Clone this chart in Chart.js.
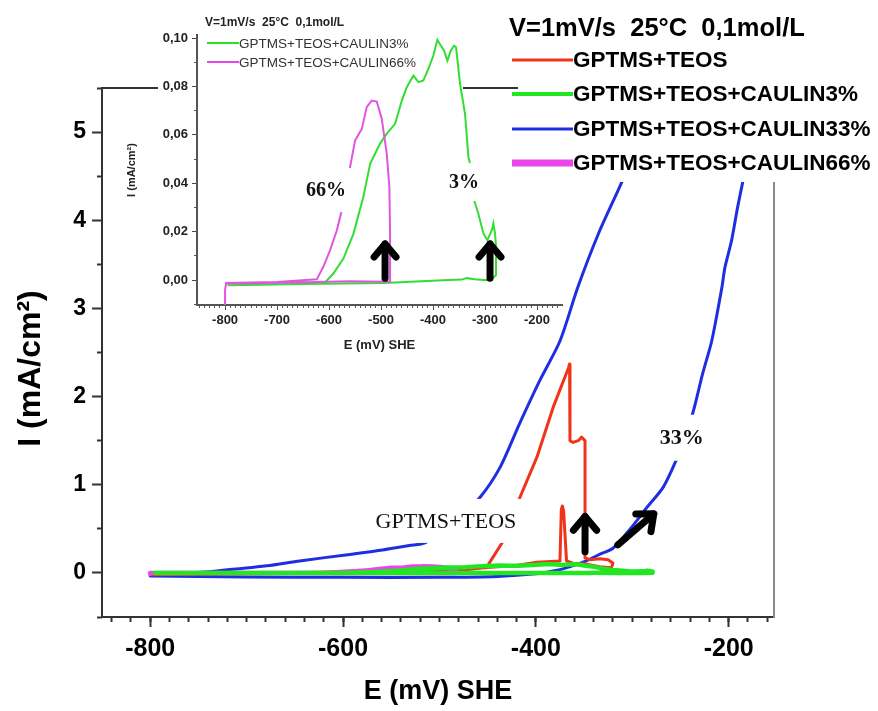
<!DOCTYPE html>
<html><head><meta charset="utf-8">
<script src="https://cdn.jsdelivr.net/npm/chart.js@4.4.1/dist/chart.umd.min.js"></script>
<style>
html,body{margin:0;padding:0;background:#fff;width:878px;height:711px;overflow:hidden}
#wrap{position:relative;width:878px;height:711px}
#main{position:absolute;left:0;top:0}
#inset{position:absolute;left:120px;top:0}
</style></head><body>
<div id="wrap">
<canvas id="main" width="878" height="711"></canvas>
<canvas id="inset" width="450" height="365"></canvas>
</div>
<script>
// ---------------- data ----------------
const seriesNames = ['GPTMS+TEOS','GPTMS+TEOS+CAULIN3%','GPTMS+TEOS+CAULIN33%','GPTMS+TEOS+CAULIN66%'];
const legendTitle = 'V=1mV/s  25°C  0,1mol/L';
const insetTitle = 'V=1mV/s  25°C  0,1mol/L';
const xTickLabels = [-800, -600, -400, -200];
const yTickLabels = [0, 1, 2, 3, 4, 5];
const yMinorTicks = [-0.5, 0.5, 1.5, 2.5, 3.5, 4.5, 5.5];
const insetXTickLabels = [-800, -700, -600, -500, -400, -300, -200];
const insetYTickLabels = [0, 0.02, 0.04, 0.06, 0.08, 0.10];
const insetYMinorTicks = [-0.01, 0.01, 0.03, 0.05, 0.07, 0.09];

// GPTMS+TEOS (red)
const teosE = [-800,-700,-600,-520,-470,-452,-449,-434,-416.6,-399,-382,-366,-365,-364.6,-361.4,-356,-352.7,-349,-349,-344,-333.7,-325,-320,-321.6,-333.7,-347.5,-361.6,-368.2,-371.2,-372.5,-373.6,-375,-399,-423.7,-451,-520,-600,-700,-800];
const teosI = [-0.02,-0.01,0.0,0.02,0.04,0.06,0.10,0.36,0.855,1.31,1.88,2.33,2.37,1.50,1.48,1.50,1.54,1.50,0.17,0.15,0.16,0.15,0.11,0.06,0.07,0.10,0.11,0.136,0.70,0.76,0.72,0.136,0.12,0.08,0.06,0.03,0.01,0.0,-0.01];

// GPTMS+TEOS+CAULIN3% (green)
const c3E = [-795,-700,-608.7,-591.7,-572.4,-553,-534,-521,-502,-489,-473,-460,-450.6,-437.8,-428,-418.6,-409,-399.4,-391.7,-385,-378.8,-372.4,-365.9,-359.6,-355.8,-348,-338.5,-332,-329,-321,-313,-303,-295.6,-287,-284,-280.8,-278.8,-279,-290,-303,-320,-335,-345,-370,-495,-650,-795];
const c3I = [-0.0021,-0.0018,-0.0012,0.0027,0.0089,0.0192,0.0344,0.0481,0.0564,0.0605,0.0646,0.0742,0.0797,0.0845,0.0818,0.0825,0.0873,0.0928,0.0993,0.0969,0.0948,0.0907,0.0948,0.0969,0.0962,0.0811,0.0687,0.0509,0.0481,0.033,0.0275,0.0192,0.0165,0.0206,0.0234,0.0192,0.0137,0.002,0.0,0.0,0.0003,0.0008,0.0002,0.0,-0.0012,-0.0016,-0.0021];

// GPTMS+TEOS+CAULIN33% (blue)
const c33E = [-800,-770,-731,-679,-645,-593,-559,-531,-515,-495,-477,-458,-437,-417,-396,-375,-356.5,-335,-311,-290,-270,-255,-250,-160,-168,-175,-180,-185.5,-190.7,-197,-204,-207,-217.6,-227,-237,-245,-254,-268,-285,-302,-320,-334,-347,-362,-378,-400,-440,-500,-600,-700,-800];
const c33I = [-0.03,-0.01,0.023,0.08,0.136,0.21,0.26,0.31,0.34,0.50,0.66,0.855,1.20,1.69,2.18,2.63,3.24,3.85,4.43,4.98,5.5,5.9,6.2,6.2,5.4,5.0,4.73,4.43,4.15,3.77,3.46,3.24,2.63,2.26,1.82,1.55,1.29,0.97,0.74,0.50,0.28,0.21,0.14,0.08,0.03,-0.01,-0.04,-0.05,-0.05,-0.045,-0.035];

// GPTMS+TEOS+CAULIN66% (magenta)
const c66E = [-800,-800,-798,-700,-623.7,-611,-598,-585,-575.6,-567,-559.6,-550,-537,-527.6,-518,-508.3,-498.7,-489,-484,-482.7,-482.7,-560,-688,-790,-800];
const c66I = [-0.0103,-0.004,-0.0012,-0.0008,0.0003,0.0055,0.0124,0.0206,0.0289,0.038,0.0467,0.0577,0.0625,0.0715,0.0742,0.0738,0.0667,0.0522,0.0385,0.0192,-0.0007,-0.0005,-0.0011,-0.0014,-0.0014];

// annotations (data coordinates)
const mainLabels = [
  {text:'GPTMS+TEOS', E:-493.3, I:0.59, w:152, h:44, bold:false},
  {text:'33%', E:-248.7, I:1.533, w:52, h:46, bold:true}
];
const mainArrows = [
  {E0:-349, I0:0.24, E1:-349, I1:0.64},
  {E0:-315, I0:0.318, E1:-277.7, I1:0.67}
];
const insetLabels = [
  {text:'66%', E:-605.8, I:0.0372, w:50, h:44, bold:true},
  {text:'3%', E:-340.4, I:0.0405, w:34, h:38, bold:true}
];
const insetArrows = [
  {E0:-492.3, I0:0.0008, E1:-492.3, I1:0.0149},
  {E0:-290.4, I0:0.0008, E1:-290.4, I1:0.0149}
];

// ---------------- helpers ----------------
const FONT = '"Liberation Sans", Arial, Helvetica, sans-serif';
const SERIF = '"Liberation Serif", "Times New Roman", serif';
const COLORS = ['#f0341a', '#22e622', '#1f2fe0', '#ea46ea'];
const toXY = (E, I) => E.map((e, i) => ({x: e, y: I[i]}));
const range = (a, b, s) => { const r = []; for (let v = a; v <= b + 1e-9; v += s) r.push(Math.round(v * 1000) / 1000); return r; };
const xMinorTicks = range(-840, -160, 20);
const insetXMinorTicks = range(-850, -160, 10);

function drawArrow(ctx, x0, y0, x1, y1, w, head) {
  ctx.save();
  ctx.strokeStyle = '#000'; ctx.lineWidth = w; ctx.lineCap = 'round'; ctx.lineJoin = 'round';
  ctx.beginPath(); ctx.moveTo(x0, y0); ctx.lineTo(x1, y1); ctx.stroke();
  const a = Math.atan2(y1 - y0, x1 - x0), sp = 0.7;
  ctx.beginPath();
  ctx.moveTo(x1 - head * Math.cos(a - sp), y1 - head * Math.sin(a - sp));
  ctx.lineTo(x1, y1);
  ctx.lineTo(x1 - head * Math.cos(a + sp), y1 - head * Math.sin(a + sp));
  ctx.stroke();
  ctx.restore();
}
function makeAnnot(labels, arrows, fontSize, aw, ah) {
  return {
    id: 'annot',
    afterDatasetsDraw(chart) {
      const ctx = chart.ctx, xs = chart.scales.x, ys = chart.scales.y;
      labels.forEach(l => {
        const px = xs.getPixelForValue(l.E), py = ys.getPixelForValue(l.I);
        ctx.save();
        ctx.fillStyle = '#fff';
        ctx.fillRect(px - l.w / 2, py - l.h / 2, l.w, l.h);
        ctx.font = (l.bold ? 'bold ' : '') + fontSize + 'px ' + SERIF;
        ctx.fillStyle = '#111'; ctx.textAlign = 'center'; ctx.textBaseline = 'middle';
        ctx.fillText(l.text, px, py + 1);
        ctx.restore();
      });
      arrows.forEach(a => drawArrow(ctx, xs.getPixelForValue(a.E0), ys.getPixelForValue(a.I0),
        xs.getPixelForValue(a.E1), ys.getPixelForValue(a.I1), aw, ah));
    }
  };
}
function tickAxis(pos, min, max, ticksArr, len, width, color, weight, fitSize, labelOpts, titleOpts, border) {
  const horiz = pos === 'bottom' || pos === 'top';
  return {
    type: 'linear', position: pos, min: min, max: max, weight: weight,
    afterBuildTicks: s => { s.ticks = ticksArr.map(v => ({value: v})); },
    afterFit: s => { if (horiz) s.height = fitSize; else s.width = fitSize; },
    grid: {display: true, drawOnChartArea: false, drawTicks: true, tickLength: len, tickWidth: width, tickColor: color},
    border: border || {display: false},
    ticks: labelOpts || {display: false},
    title: titleOpts || {display: false}
  };
}

// ---------------- main chart ----------------
const mainLegend = {
  id: 'mainLegend',
  afterDraw(chart) {
    const ctx = chart.ctx;
    ctx.save();
    ctx.fillStyle = '#fff';
    ctx.fillRect(518, 0, 360, 182);
    ctx.fillStyle = '#000';
    ctx.textBaseline = 'middle'; ctx.textAlign = 'left';
    ctx.font = 'bold 25.5px ' + FONT;
    ctx.fillText(legendTitle, 509, 29);
    const ys = [60, 94, 129, 163], lw = [3, 4, 3, 7];
    ctx.font = 'bold 22.5px ' + FONT;
    seriesNames.forEach((n, i) => {
      ctx.strokeStyle = COLORS[i]; ctx.lineWidth = lw[i]; ctx.lineCap = 'butt';
      ctx.beginPath(); ctx.moveTo(512, ys[i]); ctx.lineTo(573, ys[i]); ctx.stroke();
      ctx.fillStyle = '#000';
      ctx.fillText(n, 573, ys[i] + 1);
    });
    ctx.restore();
  }
};

new Chart(document.getElementById('main'), {
  type: 'scatter',
  data: {
    datasets: [
      {label: seriesNames[1], data: toXY(c3E, c3I), borderColor: COLORS[1], borderWidth: 4.5, order: 0},
      {label: seriesNames[3], data: toXY(c66E, c66I), borderColor: COLORS[3], borderWidth: 4.5, order: 1},
      {label: seriesNames[0], data: toXY(teosE, teosI), borderColor: COLORS[0], borderWidth: 3, order: 2},
      {label: seriesNames[2], data: toXY(c33E, c33I), borderColor: COLORS[2], borderWidth: 3, order: 3, tension: 0.25}
    ].map(d => Object.assign({showLine: true, pointRadius: 0, pointHoverRadius: 0, fill: false, borderJoinStyle: 'round', borderCapStyle: 'round'}, d))
  },
  options: {
    responsive: false, animation: false, devicePixelRatio: 1,
    layout: {padding: {left: 0, top: 88, right: 104, bottom: 0}},
    plugins: {legend: {display: false}, tooltip: {enabled: false}},
    scales: {
      x: tickAxis('bottom', -850, -153, xTickLabels, 10, 2, '#333', 2, 94,
        {color: '#000', font: {family: FONT, size: 25, weight: 'bold'}, padding: 7, maxRotation: 0, autoSkip: false, callback: v => String(v)},
        {display: true, text: 'E (mV) SHE', color: '#000', font: {family: FONT, size: 27, weight: 'bold'}, padding: {top: 0, bottom: 3}},
        {display: true, width: 2, color: '#333'}),
      xMinor: tickAxis('bottom', -850, -153, xMinorTicks, 5, 2, '#333', 1, 0),
      y: tickAxis('left', -0.5, 5.5, yTickLabels, 10, 2, '#333', 2, 102,
        {color: '#000', font: {family: FONT, size: 23, weight: 'bold'}, padding: 6, autoSkip: false, callback: v => String(v)},
        {display: true, text: 'I (mA/cm²)\u2002\u2002', color: '#000', font: {family: FONT, size: 32, weight: 'bold'}, padding: {top: 12, bottom: 0}},
        {display: true, width: 2, color: '#333'}),
      yMinor: tickAxis('left', -0.5, 5.5, yMinorTicks, 5, 2, '#333', 1, 0),
      x2: {type: 'linear', position: 'top', afterFit: s => { s.height = 0; }, grid: {display: false}, ticks: {display: false}, border: {display: true, width: 2, color: '#333'}},
      y2: {type: 'linear', position: 'right', afterFit: s => { s.width = 0; }, grid: {display: false}, ticks: {display: false}, border: {display: true, width: 2, color: '#888'}}
    }
  },
  plugins: [makeAnnot(mainLabels, mainArrows, 22, 7, 18), mainLegend]
});

// ---------------- inset chart ----------------
const insetDecor = {
  id: 'insetDecor',
  beforeDraw(chart) {
    const ctx = chart.ctx;
    ctx.save(); ctx.fillStyle = '#fff'; ctx.fillRect(38, 0, 305, 365); ctx.restore();
  },
  afterDraw(chart) {
    const ctx = chart.ctx;
    ctx.save();
    ctx.textBaseline = 'middle'; ctx.textAlign = 'left';
    ctx.fillStyle = '#222';
    ctx.font = 'bold 12px ' + FONT;
    ctx.fillText(insetTitle, 85, 23);
    const items = [[1, 43], [3, 62]];
    ctx.font = '13.5px ' + FONT;
    items.forEach(([k, y]) => {
      ctx.strokeStyle = COLORS[k]; ctx.lineWidth = 2;
      ctx.beginPath(); ctx.moveTo(87, y); ctx.lineTo(119, y); ctx.stroke();
      ctx.fillStyle = '#333';
      ctx.fillText(seriesNames[k], 119, y + 1);
    });
    ctx.restore();
  }
};

new Chart(document.getElementById('inset'), {
  type: 'scatter',
  data: {
    datasets: [
      {label: seriesNames[1], data: toXY(c3E, c3I), borderColor: '#33dd33', borderWidth: 2, order: 1},
      {label: seriesNames[3], data: toXY(c66E, c66I), borderColor: '#e055e0', borderWidth: 2, order: 0}
    ].map(d => Object.assign({showLine: true, pointRadius: 0, pointHoverRadius: 0, fill: false}, d))
  },
  options: {
    responsive: false, animation: false, devicePixelRatio: 1,
    layout: {padding: {left: 0, top: 35, right: 8, bottom: 0}},
    plugins: {legend: {display: false}, tooltip: {enabled: false}},
    scales: {
      x: tickAxis('bottom', -854, -152, insetXTickLabels, 5, 1, '#444', 2, 60,
        {color: '#222', font: {family: FONT, size: 13, weight: 'bold'}, padding: 3, maxRotation: 0, autoSkip: false, callback: v => String(v)},
        {display: true, text: 'E (mV) SHE', color: '#222', font: {family: FONT, size: 13, weight: 'bold'}, padding: {top: 0, bottom: 12}},
        {display: true, width: 2, color: '#555'}),
      xMinor: tickAxis('bottom', -854, -152, insetXMinorTicks, 3, 1, '#555', 1, 0),
      y: tickAxis('left', -0.0103, 0.1013, insetYTickLabels, 5, 1, '#444', 2, 77,
        {color: '#222', font: {family: FONT, size: 13, weight: 'bold'}, padding: 4, autoSkip: false, callback: v => v.toFixed(2).replace('.', ',')},
        {display: true, text: 'I (mA/cm²)', color: '#222', font: {family: FONT, size: 11, weight: 'bold'}, padding: {top: 5, bottom: 0}},
        {display: true, width: 2, color: '#555'}),
      yMinor: tickAxis('left', -0.0103, 0.1013, insetYMinorTicks, 3, 1, '#555', 1, 0)
    }
  },
  plugins: [makeAnnot(insetLabels, insetArrows, 20, 7, 17), insetDecor]
});
</script>
</body></html>
